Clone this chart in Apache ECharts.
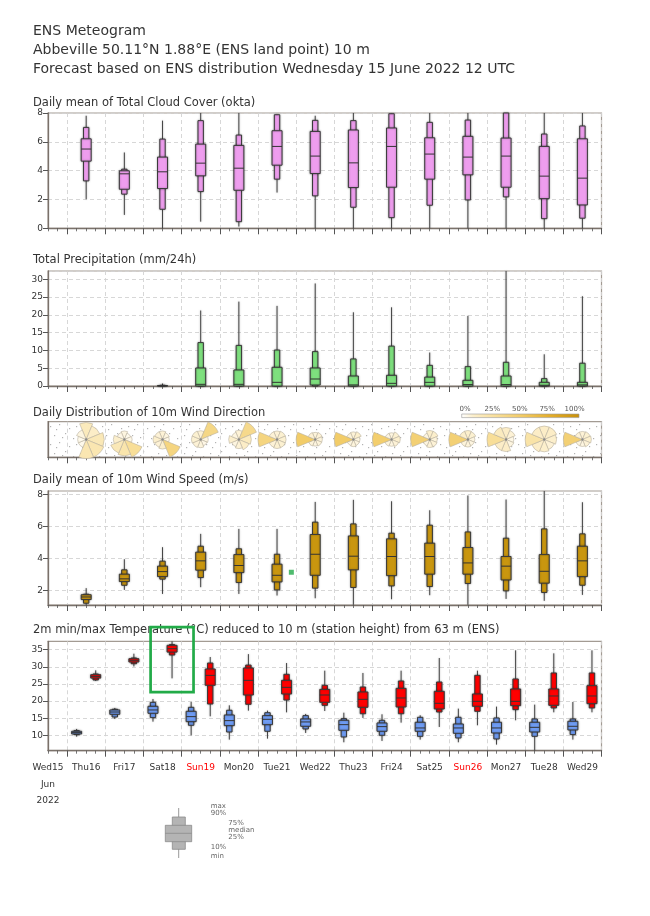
<!DOCTYPE html>
<html><head><meta charset="utf-8">
<script src="https://cdn.jsdelivr.net/npm/echarts@6/dist/echarts.min.js"></script>
<style>html,body{margin:0;padding:0;background:#fff}#c{width:650px;height:916px}</style>
</head><body><div id="c"></div>
<script>
// ---------- DATA ----------
const dayLabels = ['Wed15','Thu16','Fri17','Sat18','Sun19','Mon20','Tue21','Wed22','Thu23','Fri24','Sat25','Sun26','Mon27','Tue28','Wed29'];
const labelHours = [0,24,48,72,96,120,144,168,192,216,240,264,288,312,336];
const majorTickHours = [12,36,60,84,108,132,156,180,204,228,252,276,300,324,348];
const monthLabel = 'Jun';
const yearLabel = '2022';
const boxHours = [24,48,72,96,120,144,168,192,216,240,264,288,312,336];
const tminHours = [18,42,66,90,114,138,162,186,210,234,258,282,306,330];
const tmaxHours = [30,54,78,102,126,150,174,198,222,246,270,294,318,342];

const cloudMin = [2.02,0.93,0,0.46,0.12,2.48,0,0,0,0,0,0,0,0];
const cloudP10 = [3.29,2.37,1.32,2.55,0.46,3.41,2.25,1.46,0.74,1.6,1.97,2.18,0.67,0.7];
const cloudP25 = [4.66,2.71,2.76,3.64,2.64,4.38,3.8,2.83,2.85,3.41,3.71,2.85,2.06,1.62];
const cloudMed = [5.5,3.78,3.92,4.52,4.17,5.68,5.01,4.54,5.68,5.15,4.94,5.01,3.62,3.48];
const cloudP75 = [6.21,3.99,4.94,5.84,5.75,6.77,6.72,6.82,6.96,6.28,6.38,6.26,5.68,6.21];
const cloudP90 = [7.0,4.1,6.19,7.47,6.47,7.88,7.49,7.47,7.95,7.35,7.51,8,6.54,7.1];
const cloudMax = [7.81,5.26,7.47,8,8,7.88,7.81,8,7.95,8,8,8,8,8];

const precMin = [0,0,0,0,0,0,0,0,0,0,0,0,0,0];
const precP10 = [0,0,0,0,0,0,0,0,0,0,0,0,0,0];
const precP25 = [0,0,0,0,0,0,0.28,0,0,0,0,0,0,0];
const precMed = [0,0,0.05,0.47,0.47,1.03,1.97,0.3,0.75,1.03,0.4,0.4,0.2,0.3];
const precP75 = [0,0,0.1,5.06,4.5,5.25,5.06,2.8,3.0,2.5,1.6,2.8,1.03,1.03];
const precP90 = [0,0,0.2,12.2,11.4,10.1,9.66,7.6,11.2,5.8,5.44,6.66,2.06,6.4];
const precMax = [0,0,0.7,21.2,23.7,22.5,28.8,20.7,22.1,9.4,19.7,32.3,8.9,25.2];

// wind direction frequencies (fraction of members) per sector
const dirN  = [0.16,0.06,0.08,0.08,0.08,0.08,0.07,0.08,0.06,0.10,0.10,0.12,0.12,0.08];
const dirNE = [0.12,0.04,0.06,0.38,0.35,0.09,0.08,0.10,0.09,0.10,0.09,0.08,0.12,0.09];
const dirE  = [0.18,0.05,0.05,0.06,0.15,0.09,0.07,0.06,0.10,0.07,0.06,0.05,0.10,0.10];
const dirSE = [0.20,0.30,0.40,0.05,0.12,0.09,0.07,0.06,0.08,0.08,0.06,0.06,0.08,0.08];
const dirS  = [0.20,0.22,0.10,0.07,0.08,0.09,0.06,0.07,0.06,0.08,0.07,0.12,0.10,0.06];
const dirSW = [0.04,0.18,0.08,0.08,0.06,0.08,0.07,0.06,0.07,0.06,0.07,0.12,0.12,0.06];
const dirW  = [0.04,0.10,0.10,0.09,0.10,0.40,0.50,0.50,0.48,0.45,0.45,0.30,0.24,0.45];
const dirNW = [0.06,0.05,0.08,0.09,0.06,0.08,0.08,0.07,0.06,0.06,0.10,0.15,0.12,0.08];
const dirBearings = [0,45,90,135,180,225,270,315];
const colorbarLabels = ['0%','25%','50%','75%','100%'];

const wsMin = [1.11,2.04,1.79,2.21,1.79,1.69,1.52,1.11,1.46,1.71,1.11,1.48,1.36,1.73];
const wsP10 = [1.21,2.33,2.71,2.81,2.5,2.04,2.15,2.19,2.29,2.25,2.44,1.98,1.88,2.33];
const wsP25 = [1.44,2.56,2.87,3.27,3.12,2.54,2.95,3.29,2.93,3.02,3.02,2.66,2.46,2.87];
const wsMed = [1.6,2.73,3.18,3.85,3.56,2.95,4.26,4.14,4.12,4.12,3.72,3.52,3.2,3.85];
const wsP75 = [1.74,3.02,3.52,4.39,4.24,3.64,5.49,5.4,5.22,4.95,4.68,4.12,4.24,4.76];
const wsP90 = [1.77,3.29,3.83,4.76,4.6,4.26,6.26,6.15,5.57,6.07,5.65,5.26,5.84,5.53];
const wsMax = [2.15,3.95,4.7,5.53,5.84,5.84,7.52,7.65,7.56,7.0,7.92,7.67,8.2,7.5];
const wsMarkerHours = [153];
const wsMarkerValues = [3.14];

const tnMin = [9.6,14.77,13.99,10.0,8.74,9.03,10.68,7.96,8.35,8.74,7.96,7.28,5.53,8.74];
const tnP10 = [10.2,15.35,15.16,12.92,10.97,11.17,11.85,9.51,10.0,9.7,9.22,8.93,9.7,10.2];
const tnP25 = [10.39,16.13,16.42,13.99,12.82,13.11,12.63,11.46,11.17,11.17,10.58,10.68,10.97,11.56];
const tnMed = [10.78,16.8,17.4,15.45,14.28,14.67,13.9,13.11,12.53,12.14,12.14,12.14,12.33,12.63];
const tnP75 = [11.17,17.4,18.46,17.0,15.93,15.74,14.77,14.38,13.6,13.8,13.3,13.8,13.8,14.09];
const tnP90 = [11.36,17.6,19.63,18.17,17.3,16.6,15.74,14.86,14.38,15.25,15.25,15.06,14.77,14.77];
const tnMax = [11.85,17.98,20.6,19.73,18.75,17.2,16.23,16.6,16.13,15.84,17.78,18.37,18.95,19.73];

const txMin = [25.86,30.1,26.63,15.54,17.2,16.7,17.1,15.06,13.7,12.43,12.92,14.38,16.71,16.71];
const txP10 = [26.15,30.9,33.44,19.14,19.05,20.3,18.75,16.3,16.3,16.8,17.0,17.5,17.98,17.98];
const txP25 = [26.7,31.4,34.3,24.6,21.77,22.06,19.63,18.17,18.27,17.68,18.46,18.66,18.75,19.24];
const txMed = [27.2,31.9,35.29,27.5,26.05,24.0,21.77,20.5,20.9,19.34,19.92,19.92,21.48,21.48];
const txP75 = [27.7,32.37,36.26,29.36,29.65,26.05,23.4,22.65,23.7,22.84,22.06,23.52,23.52,24.5];
const txP90 = [27.9,32.57,36.46,31.1,30.5,27.8,24.6,24.1,25.86,25.56,27.5,26.44,28.2,28.2];
const txMax = [28.97,33.83,37.43,32.86,33.7,31.1,28.87,28.2,28.87,32.57,28.87,34.8,33.93,34.8];

const highlightHours = [64.5, 91.5];
const highlightTemps = [22.6, 41.6];

// ---------- STYLE / LAYOUT ----------
const FONT = 'DejaVu Sans';
const TXT = '#333';
const AX = '#7a716a';
const grids = [
  {left:48, right:48.5, top:113, height:115.3},
  {left:48, right:48.5, top:271, height:115},
  {left:48, right:48.5, top:421.7, height:35.6},
  {left:48, right:48.5, top:491, height:114},
  {left:48, right:48.5, top:641.3, height:109.4}
];

const tile = document.createElement('canvas');
tile.width = 26; tile.height = 18;
(function(){
  const c = tile.getContext('2d');
  c.fillStyle = '#ffffff'; c.fillRect(0,0,26,18);
  c.fillStyle = '#b3b3b3';
  [[2,3],[13,1],[21,6],[7,10],[17,14],[24,12],[10,5],[4,15]].forEach(p => c.fillRect(p[0],p[1],1.2,1.2));
})();

function rows(h, arrs){ return h.map((t,i)=>[t].concat(arrs.map(a=>a[i]))); }

function boxRender(fill){
  return function(params, api){
    const t = api.value(0);
    const v = [1,2,3,4,5,6,7].map(i=>api.value(i));
    if (v[6] <= 0) return null;
    const x = api.coord([t, v[3]])[0];
    const y = val => api.coord([t, val])[1];
    const hn = 2.7, hw = 5;
    const sh = {shadowBlur:2, shadowColor:'rgba(0,0,0,0.35)'};
    return {type:'group', children:[
      {type:'line', shape:{x1:x,y1:y(v[0]),x2:x,y2:y(v[6])}, style:Object.assign({stroke:'#444', lineWidth:1}, sh)},
      {type:'rect', shape:{x:x-hn, y:y(v[5]), width:2*hn, height:y(v[1])-y(v[5])}, style:Object.assign({fill:fill, stroke:'#3a3a3a', lineWidth:1}, sh)},
      {type:'rect', shape:{x:x-hw, y:y(v[4]), width:2*hw, height:y(v[2])-y(v[4])}, style:Object.assign({fill:fill, stroke:'#3a3a3a', lineWidth:1}, sh)},
      {type:'line', shape:{x1:x-hw,y1:y(v[3]),x2:x+hw,y2:y(v[3])}, style:{stroke:'#333', lineWidth:1}}
    ]};
  };
}

const cbStops = [[0,[255,255,255]],[0.1,[252,239,204]],[0.25,[249,226,164]],[0.5,[242,204,104]],[0.75,[228,174,44]],[1,[200,144,10]]];
function roseColor(f){
  for (let i=1;i<cbStops.length;i++){
    if (f <= cbStops[i][0]){
      const a = cbStops[i-1], b = cbStops[i];
      const k = (f - a[0])/(b[0]-a[0]);
      const c = a[1].map((ch,j)=>Math.round(ch + (b[1][j]-ch)*k));
      return 'rgb('+c.join(',')+')';
    }
  }
  return 'rgb(200,144,10)';
}

function roseRender(params, api){
  const t = api.value(0);
  const f = [1,2,3,4,5,6,7,8].map(i=>api.value(i));
  const c = api.coord([t, 0.5]);
  const fmax = Math.max.apply(null, f);
  const children = f.map((fi,k)=>{
    const b = dirBearings[k];
    return {type:'sector', shape:{cx:c[0], cy:c[1], r0:0, r:19*Math.sqrt(fi/fmax),
      startAngle:(b-22.5-90)*Math.PI/180, endAngle:(b+22.5-90)*Math.PI/180, clockwise:true},
      style:{fill:roseColor(fi), stroke:'#b9b09e', lineWidth:0.6}};
  });
  children.push({type:'circle', shape:{cx:c[0], cy:c[1], r:1.2}, style:{fill:'#8a8a8a'}});
  return {type:'group', children};
}

function xAxes(gi, withLabels){
  return [{
    type:'value', gridIndex:gi, position:'bottom', min:0, max:348, interval:6,
    axisLine:{show:true, onZero:false, lineStyle:{color:AX, width:1.3}},
    axisTick:{show:true, length:3, lineStyle:{color:'#555', width:0.8}},
    axisLabel:{show:false}, splitLine:{show:false}
  },{
    type:'value', gridIndex:gi, position:'bottom', min:0, max:348,
    axisLine:{show:false, onZero:false},
    axisTick:{show:true, length:6, customValues:majorTickHours, lineStyle:{color:'#555', width:1}},
    axisLabel: withLabels ? {
      show:true, customValues:labelHours, margin:9, fontSize:9, fontFamily:FONT, color:TXT,
      formatter: function(v){
        const i = labelHours.indexOf(v);
        const lab = dayLabels[i];
        const s = lab.indexOf('Sun')===0 ? '{s|'+lab+'}' : '{d|'+lab+'}';
        return i===0 ? s+'\n{d|'+monthLabel+'}\n{d|'+yearLabel+'}' : s;
      },
      rich:{d:{color:TXT, fontSize:9, fontFamily:FONT, lineHeight:16.5}, s:{color:'#ff0000', fontSize:9, fontFamily:FONT, lineHeight:16.5}}
    } : {show:false},
    splitLine:{show:true, lineStyle:{color:'#d2d2d2', type:[4,3], width:0.9}}
  }];
}

function yAxis(gi, o){
  const base = {
    type:'value', gridIndex:gi, min:o.min, max:o.max,
    axisLine:{show:true, onZero:false, lineStyle:{color:AX, width:1.3}},
    axisTick:{show:o.labels!==false, length:5, inside:false, lineStyle:{color:'#555'}},
    axisLabel:{show:o.labels!==false, fontSize:9, fontFamily:FONT, color:TXT, margin:5},
    splitLine:{show:o.labels!==false, lineStyle:{color:'#d2d2d2', type:[4,3], width:0.9}}
  };
  if (o.interval) base.interval = o.interval;
  if (o.ticks){ base.axisTick.customValues = o.ticks; base.axisLabel.customValues = o.ticks; }
  return base;
}

const xAxisList = [].concat(xAxes(0,false), xAxes(1,false), xAxes(2,false), xAxes(3,false), xAxes(4,true));
const yAxisList = [
  yAxis(0,{min:0,max:8,interval:2}),
  yAxis(1,{min:0,max:32.3,interval:5}),
  yAxis(2,{min:0,max:1,labels:false}),
  yAxis(3,{min:1.1,max:8.2,ticks:[2,4,6,8]}),
  yAxis(4,{min:5.5,max:37.45,ticks:[10,15,20,25,30,35]})
];

function txt(x,y,s,size,color){
  return {type:'text', x:x, y:y, style:{text:s, fill:color||TXT, font:size+'px "'+FONT+'"', verticalAlign:'middle', align:'left'}};
}

const graphics = [
  txt(33,31,'ENS Meteogram',14),
  txt(33,50,'Abbeville 50.11°N 1.88°E (ENS land point) 10 m',14),
  txt(33,69,'Forecast based on ENS distribution Wednesday 15 June 2022 12 UTC',14),
  txt(33,103,'Daily mean of Total Cloud Cover (okta)',11.5),
  txt(33,260,'Total Precipitation (mm/24h)',11.5),
  txt(33,413,'Daily Distribution of 10m Wind Direction',11.5),
  txt(33,480,'Daily mean of 10m Wind Speed (m/s)',11.5),
  txt(33,630,'2m min/max Temperature (°C) reduced to 10 m (station height) from 63 m (ENS)',11.5),
  {type:'rect', shape:{x:461.7, y:414, width:117.3, height:3.6},
   style:{fill:new echarts.graphic.LinearGradient(0,0,1,0, cbStops.map(s=>({offset:s[0], color:'rgb('+s[1].join(',')+')'}))), stroke:'#999', lineWidth:0.6}}
].concat(colorbarLabels.map((l,i)=>({type:'text', x:465+i*27.4, y:409, style:{text:l, fill:'#555', font:'7px "'+FONT+'"', align:'center', verticalAlign:'middle'}})))
.concat([
  {type:'line', shape:{x1:178.7,y1:808,x2:178.7,y2:858}, style:{stroke:'#999', lineWidth:1}},
  {type:'rect', shape:{x:172.3,y:817,width:13,height:32.3}, style:{fill:'#b4b4b4', stroke:'#8a8a8a', lineWidth:0.8}},
  {type:'rect', shape:{x:165.3,y:825.3,width:26.4,height:16.4}, style:{fill:'#b4b4b4', stroke:'#8a8a8a', lineWidth:0.8}},
  {type:'line', shape:{x1:165.3,y1:833.3,x2:191.7,y2:833.3}, style:{stroke:'#8a8a8a', lineWidth:0.8}},
  txt(210.7,806,'max',7,'#666'),
  txt(210.7,813.3,'90%',7,'#666'),
  txt(228.3,823,'75%',7,'#666'),
  txt(228.3,830,'median',7,'#666'),
  txt(228.3,837.3,'25%',7,'#666'),
  txt(210.7,846.7,'10%',7,'#666'),
  txt(210.7,856,'min',7,'#666')
]);

const gridOpts = grids.map((g,i)=>Object.assign({show:true, borderColor:'#a39b93', borderWidth:1.2,
  backgroundColor: i===2 ? {image:tile, repeat:'repeat'} : '#fff'}, g));

const option = {
  animation:false,
  backgroundColor:'#fff',
  textStyle:{fontFamily:FONT},
  grid: gridOpts,
  xAxis: xAxisList,
  yAxis: yAxisList,
  graphic: graphics,
  series: [
    {type:'custom', name:'cloud', xAxisIndex:0, yAxisIndex:0, renderItem:boxRender('#ee9dee'),
     encode:{x:0, y:[1,2,3,4,5,6,7]}, data:rows(boxHours,[cloudMin,cloudP10,cloudP25,cloudMed,cloudP75,cloudP90,cloudMax]), z:5},
    {type:'custom', name:'precip', xAxisIndex:2, yAxisIndex:1, renderItem:boxRender('#7ee07e'),
     encode:{x:0, y:[1,2,3,4,5,6,7]}, data:rows(boxHours,[precMin,precP10,precP25,precMed,precP75,precP90,precMax]), z:5},
    {type:'custom', name:'winddir', xAxisIndex:4, yAxisIndex:2, renderItem:roseRender, clip:false,
     encode:{x:0}, data:rows(boxHours,[dirN,dirNE,dirE,dirSE,dirS,dirSW,dirW,dirNW]), z:5},
    {type:'custom', name:'wind', xAxisIndex:6, yAxisIndex:3, renderItem:boxRender('#c9960f'),
     encode:{x:0, y:[1,2,3,4,5,6,7]}, data:rows(boxHours,[wsMin,wsP10,wsP25,wsMed,wsP75,wsP90,wsMax]), z:5},
    {type:'scatter', xAxisIndex:6, yAxisIndex:3, symbol:'rect', symbolSize:5, itemStyle:{color:'#23aa4a'},
     data:wsMarkerHours.map((h,i)=>[h, wsMarkerValues[i]]), z:6},
    {type:'custom', name:'tmin', xAxisIndex:8, yAxisIndex:4, renderItem:boxRender('#6f9cf4'),
     encode:{x:0, y:[1,2,3,4,5,6,7]}, data:rows(tminHours,[tnMin,tnP10,tnP25,tnMed,tnP75,tnP90,tnMax]), z:5},
    {type:'custom', name:'tmax', xAxisIndex:8, yAxisIndex:4, renderItem:boxRender('#ff0000'),
     encode:{x:0, y:[1,2,3,4,5,6,7]}, data:rows(tmaxHours,[txMin,txP10,txP25,txMed,txP75,txP90,txMax]), z:5},
    {type:'custom', name:'highlight', xAxisIndex:8, yAxisIndex:4, clip:false, z:10,
     renderItem:function(params, api){
       const p0 = api.coord([api.value(0), api.value(3)]);
       const p1 = api.coord([api.value(1), api.value(2)]);
       return {type:'rect', shape:{x:p0[0], y:p0[1], width:p1[0]-p0[0], height:p1[1]-p0[1]},
         style:{fill:'none', stroke:'#22ab48', lineWidth:2.7}};
     },
     data:[[highlightHours[0], highlightHours[1], highlightTemps[0], highlightTemps[1]]]}
  ]
};

const chart = echarts.init(document.getElementById('c'), null, {renderer:'canvas'});
chart.setOption(option);
</script></body></html>
